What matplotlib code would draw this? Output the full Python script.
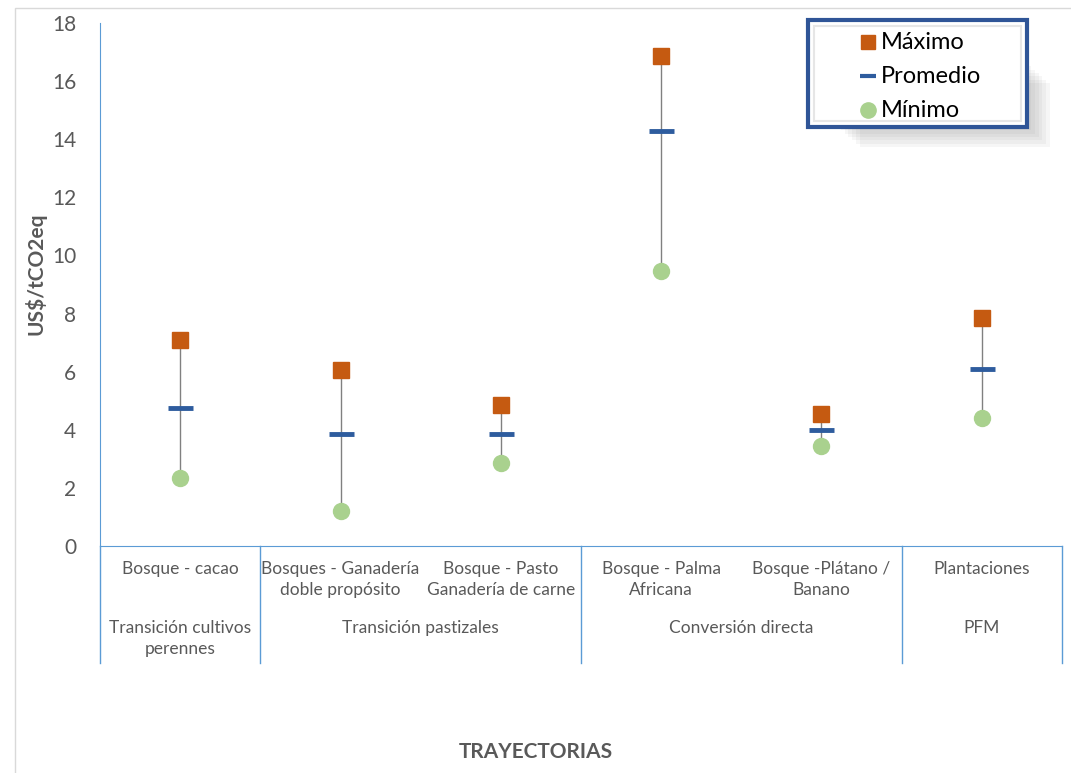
import matplotlib.pyplot as plt
from matplotlib.patches import Rectangle

plt.rcParams['font.family'] = ['Lato', 'DejaVu Sans']

# datos (US$/tCO2eq)
categorias = ["Bosque - cacao", "Bosques - Ganadería\ndoble propósito", "Bosque - Pasto\nGanadería de carne",
              "Bosque - Palma\nAfricana", "Bosque -Plátano /\nBanano", "Plantaciones"]
grupos = ["Transición cultivos\nperennes", "Transición pastizales", "Conversión directa", "PFM"]
grupo_tam = [1, 2, 2, 1]
maximo = [7.1, 6.05, 4.85, 16.85, 4.55, 7.85]
promedio = [4.75, 3.85, 3.85, 14.3, 4.0, 6.1]
minimo = [2.35, 1.2, 2.85, 9.45, 3.45, 4.4]
series = ["Máximo", "Promedio", "Mínimo"]

gris = "#595959"
azul = "#5B9BD5"
naranja = "#C55A11"
azul_osc = "#2E5C9E"
verde = "#A9D18E"

fig = plt.figure(figsize=(10.71, 7.73), dpi=100)
fig.patches.append(Rectangle((15 / 1071, -0.01), 1.1, 1 - 8 / 773 + 0.01, transform=fig.transFigure,
                             fill=False, edgecolor="#D9D9D9", linewidth=1))
ax = fig.add_axes([100 / 1071, 1 - 546 / 773, 962 / 1071, 523 / 773])

x = list(range(len(categorias)))
ax.vlines(x, minimo, maximo, color="#808080", linewidth=1, zorder=1)
ax.plot(x, maximo, "s", color=naranja, markersize=11, linestyle="none", zorder=3)
ax.plot(x, promedio, "_", color=azul_osc, markersize=18, markeredgewidth=3.5, linestyle="none", zorder=3)
ax.plot(x, minimo, "o", color=verde, markersize=11.5, linestyle="none", zorder=3)

ax.set_xlim(-0.5, len(categorias) - 0.5)
ax.set_ylim(0, 18)
ax.set_yticks(range(0, 19, 2))
ax.tick_params(axis="y", length=0, pad=17, labelsize=15, labelcolor=gris)
ax.set_xticks([])
for s in ["top", "right"]:
    ax.spines[s].set_visible(False)
ax.spines["left"].set_color(azul)
ax.spines["bottom"].set_color(azul)

fig.text(36 / 1071, 1 - 274 / 773, "US$/tCO2eq", rotation=90, ha="center", va="center",
         fontsize=15, fontweight="bold", color=gris)

trans = ax.get_xaxis_transform()
for i, c in enumerate(categorias):
    ax.text(i, -0.029, c, transform=trans, ha="center", va="top", fontsize=12.5, color=gris,
            linespacing=1.4, clip_on=False)

fondo = -0.2237
inicio = -0.5
ax.plot([inicio, inicio], [0, fondo], transform=trans, color=azul, linewidth=1, clip_on=False)
for g, n in zip(grupos, grupo_tam):
    fin = inicio + n
    ax.plot([fin, fin], [0, fondo], transform=trans, color=azul, linewidth=1, clip_on=False)
    ax.text((inicio + fin) / 2, -0.142, g, transform=trans, ha="center", va="top", fontsize=12.5,
            color=gris, linespacing=1.4, clip_on=False)
    inicio = fin

fig.text(536 / 1071, 1 - 752 / 773, "TRAYECTORIAS", ha="center", va="center", fontsize=15,
         fontweight="bold", color=gris)

# leyenda dibujada a mano (caja con borde azul y sombra suave)
lx0, lx1, ly0, ly1 = 0.736, 0.9636, 0.801, 1.0057
for k in range(6):
    d = 0.004 * (k + 1)
    ax.add_patch(Rectangle((lx0 + 0.03 + d, ly0 - d * 1.6), lx1 - lx0 - 0.03, (ly1 - ly0) * 0.6,
                           transform=ax.transAxes, facecolor="#808080", edgecolor="none",
                           alpha=0.07, clip_on=False, zorder=4))
ax.add_patch(Rectangle((lx0, ly0), lx1 - lx0, ly1 - ly0, transform=ax.transAxes,
                       facecolor="white", edgecolor="#2F5597", linewidth=3, clip_on=False, zorder=5))
ax.add_patch(Rectangle((lx0 + 0.006, ly0 + 0.011), lx1 - lx0 - 0.012, ly1 - ly0 - 0.022,
                       transform=ax.transAxes, facecolor="none", edgecolor="#E6E6E6", linewidth=1.5,
                       clip_on=False, zorder=5))
estilos = [dict(marker="s", color=naranja, markersize=10),
           dict(marker="_", color=azul_osc, markersize=12, markeredgewidth=3),
           dict(marker="o", color=verde, markersize=11)]
filas = [0.963, 0.898, 0.833]
for nombre, est, fy in zip(series, estilos, filas):
    ax.plot([0.798], [fy], transform=ax.transAxes, linestyle="none", clip_on=False, zorder=6, **est)
    ax.text(0.8115, fy, nombre, transform=ax.transAxes, ha="left", va="center", fontsize=17,
            color="black", zorder=6)

plt.savefig("out.png", dpi=100)
